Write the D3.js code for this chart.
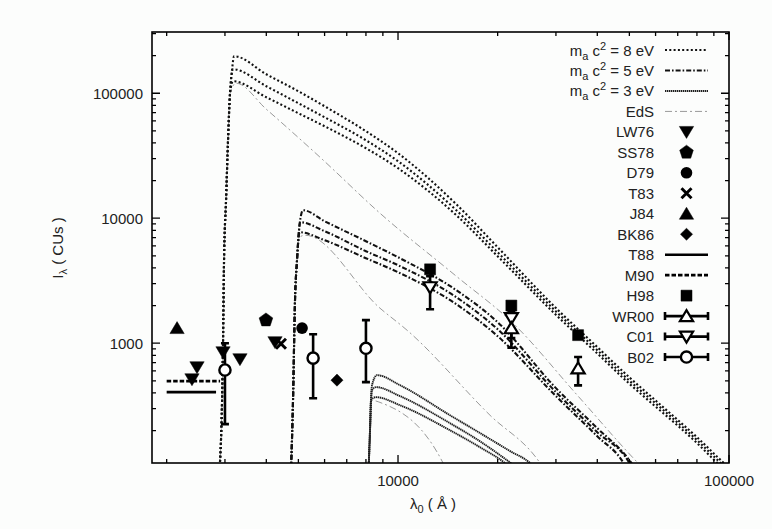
<!DOCTYPE html>
<html><head><meta charset="utf-8">
<script src="https://cdn.jsdelivr.net/npm/d3@7"></script>
<style>
html,body{margin:0;padding:0;background:#fcfdfc;}
svg{display:block;font-family:"Liberation Sans",Arial,Helvetica,sans-serif;}
</style></head><body>
<svg id="chart" width="772" height="529"></svg>
<script>
// Axis ranges: observed wavelength (Å) and intensity (CUs)
const xDomain = [1806, 100000];
const yDomain = [110, 309000];
const xTickLabels = [10000, 100000];
const yTickLabels = [1000, 10000, 100000];

// Axion-decay spectra, [λ0 (Å), I (CUs)]; three cosmologies per mass plus EdS
const m8a = [[2888,96],[2940,350],[2960,1000],[2981,4600],[3023,13900],[3065,42000],[3108,100000],[3151,152800],[3196,197700],[4000,141900],[5000,103700],[6000,78700],[8000,49660],[10000,33110],[15000,12940],[20000,5855],[30000,1911],[40000,931],[50000,533],[60000,348],[70000,243],[80000,177],[90000,131],[100000,100]];
const m8b = [[2888,96],[2940,350],[2960,1000],[2981,4600],[3023,13900],[3065,42000],[3108,100000],[3173,155600],[4000,113800],[5000,83180],[6000,64270],[8000,42070],[10000,28580],[15000,11580],[20000,5340],[30000,1795],[40000,879],[50000,501],[60000,330],[70000,231],[80000,168],[90000,124],[100000,95]];
const m8c = [[2888,96],[2940,350],[2960,1000],[2981,4600],[3023,13900],[3065,42000],[3108,100000],[3173,124700],[4000,92900],[5000,69180],[6000,54450],[8000,36310],[10000,25120],[15000,10570],[20000,4960],[30000,1687],[40000,828],[50000,474],[60000,311],[70000,219],[80000,159],[90000,117],[100000,90]];
const eds8 = [[2888,96],[2940,350],[2960,1000],[2981,4600],[3023,13900],[3065,42000],[3108,100000],[3240,120200],[4000,74500],[5813,30760],[8823,10960],[15000,3436],[22250,1445],[35000,377],[53100,110],[55000,100]];

const m5a = [[4750,96],[4817,350],[4884,2208],[4953,4613],[5022,8017],[5093,10570],[5164,11590],[6000,9462],[8000,6546],[10000,4875],[15000,2655],[20000,1472],[30000,437],[40000,209],[50000,116],[52000,100]];
const m5b = [[4750,96],[4817,350],[4884,2208],[4953,4613],[5022,8017],[5058,9290],[6000,7870],[8000,5445],[10000,4207],[15000,2333],[20000,1294],[30000,406],[40000,194],[50000,110],[51000,100]];
const m5c = [[4750,96],[4817,350],[4884,2208],[4953,4613],[5040,7727],[6000,6668],[8000,4786],[10000,3698],[15000,2051],[20000,1138],[30000,377],[40000,180],[48000,110],[49000,100]];
const eds5 = [[4750,96],[4817,350],[4884,2208],[4953,4613],[5022,7000],[5236,7311],[8823,1905],[10646,1271],[18970,265],[26850,110],[27500,100]];

const m3a = [[8145,96],[8230,201],[8287,350],[8344,461],[8641,555],[10139,461],[14360,265],[17690,191],[21800,137],[25050,110],[26000,100]];
const m3b = [[8145,96],[8230,201],[8287,350],[8344,420],[8580,445],[10139,377],[14360,229],[17690,164],[20340,127],[23000,100]];
const m3c = [[8145,96],[8230,201],[8287,350],[8580,370],[10139,319],[14360,201],[17690,147],[21050,110],[22000,100]];
const eds3 = [[8145,96],[8230,201],[8287,350],[8948,331],[13680,110],[13900,100]];

// Measurements, [λ0 (Å), I (CUs)]
const lw76 = [[2470,643],[2385,515],[2960,847],[3330,745],[4250,1020]];
const ss78 = [[3990,1530]];
const d79 = [[5130,1320]];
const t83 = [[4430,990]];
const j84 = [[2150,1320]];
const bk86 = [[6540,506]];
const t88 = [[2000,406],[2820,406]];
const m90 = [[2000,497],[2900,497]];
const h98 = [[12500,3900],[22000,2000],[35000,1160]];
// [λ0, I, I_low, I_high]
const wr00 = [[22000,1318,920,1800],[35000,630,460,775]];
const c01 = [[12500,2800,1870,3440],[22000,1585,1100,2000]];
const b02 = [[3000,610,225,1000],[5540,760,363,1180],[8000,910,488,1530]];

const svg = d3.select('#chart');
const plot = {left:152, right:729, top:32, bottom:463};
const x = d3.scaleLog().domain(xDomain).range([plot.left, plot.right]);
const y = d3.scaleLog().domain(yDomain).range([plot.bottom, plot.top]);

svg.append('rect').attr('width',772).attr('height',529).attr('fill','#fcfdfc');

svg.append('clipPath').attr('id','plotclip').append('rect')
  .attr('x',plot.left).attr('y',plot.top)
  .attr('width',plot.right-plot.left).attr('height',plot.bottom-plot.top);

const styles = {
  m8:  {stroke:'#111', width:2.1, dash:'2 2.3'},
  m5:  {stroke:'#111', width:2.1, dash:'5 2 1.6 2'},
  m3:  {stroke:'#1e1e1e', width:1.9, dash:'1.4 0.6'},
  eds: {stroke:'#999', width:1, dash:'7 3 2 3'}
};

const line = d3.line().x(d=>x(d[0])).y(d=>y(d[1])).curve(d3.curveMonotoneX);
const curveG = svg.append('g').attr('clip-path','url(#plotclip)');
const curves = [
  [eds8,'eds'],[eds5,'eds'],[eds3,'eds'],
  [m8a,'m8'],[m8b,'m8'],[m8c,'m8'],
  [m5a,'m5'],[m5b,'m5'],[m5c,'m5'],
  [m3a,'m3'],[m3b,'m3'],[m3c,'m3']
];
curves.forEach(([data,key])=>{
  const s = styles[key];
  curveG.append('path').attr('d',line(data)).attr('fill','none')
    .attr('stroke',s.stroke).attr('stroke-width',s.width).attr('stroke-dasharray',s.dash);
});

// Marker shapes
function markerPath(kind, s){
  switch(kind){
    case 'down': return `M${-s*0.55},${-s*0.42}L${s*0.55},${-s*0.42}L0,${s*0.5}Z`;
    case 'up': return `M${-s*0.55},${s*0.42}L${s*0.55},${s*0.42}L0,${-s*0.5}Z`;
    case 'diamond': return `M0,${-s*0.55}L${s*0.55},0L0,${s*0.55}L${-s*0.55},0Z`;
    case 'square': return `M${-s/2},${-s/2}h${s}v${s}h${-s}Z`;
    case 'pent': {
      const r=s*0.55; let p='';
      for(let i=0;i<5;i++){const a=-Math.PI/2+i*2*Math.PI/5; p+=(i?'L':'M')+(r*Math.cos(a)).toFixed(2)+','+(r*Math.sin(a)).toFixed(2);}
      return p+'Z';
    }
  }
}
function drawMarker(g, kind, cx, cy, open){
  if(kind==='circle'){
    g.append('circle').attr('cx',cx).attr('cy',cy).attr('r',open?5.6:5.8)
      .attr('fill',open?'#fff':'#000').attr('stroke','#000').attr('stroke-width',open?2.4:0);
  } else if(kind==='cross'){
    g.append('path').attr('d',`M${cx-5},${cy-5}L${cx+5},${cy+5}M${cx-5},${cy+5}L${cx+5},${cy-5}`)
      .attr('stroke','#000').attr('stroke-width',3).attr('fill','none');
  } else {
    const size = open ? 12 : (kind==='square'?11:(kind==='diamond'?11:13));
    g.append('path').attr('d',markerPath(kind,size)).attr('transform',`translate(${cx},${cy})`)
      .attr('fill',open?'#fff':'#000').attr('stroke','#000').attr('stroke-width',open?2.2:0.5)
      .attr('stroke-linejoin','miter');
  }
}

const ptG = svg.append('g');
// horizontal segments
ptG.append('path').attr('d',d3.line().x(d=>x(d[0])).y(d=>y(d[1]))(t88))
  .attr('stroke','#000').attr('stroke-width',2.6).attr('fill','none');
ptG.append('path').attr('d',d3.line().x(d=>x(d[0])).y(d=>y(d[1]))(m90))
  .attr('stroke','#000').attr('stroke-width',2.6).attr('stroke-dasharray','4.5 2').attr('fill','none');

function errorBars(data){
  data.forEach(d=>{
    const cx=x(d[0]);
    ptG.append('path').attr('d',`M${cx},${y(d[2])}V${y(d[3])}M${cx-4},${y(d[2])}h8M${cx-4},${y(d[3])}h8`)
      .attr('stroke','#000').attr('stroke-width',2.6).attr('fill','none');
  });
}
errorBars(b02); errorBars(c01); errorBars(wr00);

const plain = [[lw76,'down'],[ss78,'pent'],[d79,'circle'],[t83,'cross'],[j84,'up'],[bk86,'diamond'],[h98,'square']];
plain.forEach(([data,kind])=>data.forEach(d=>drawMarker(ptG,kind,x(d[0]),y(d[1]),false)));
c01.forEach(d=>drawMarker(ptG,'down',x(d[0]),y(d[1]),true));
wr00.forEach(d=>drawMarker(ptG,'up',x(d[0]),y(d[1]),true));
b02.forEach(d=>drawMarker(ptG,'circle',x(d[0]),y(d[1]),true));

// Frame and ticks (mirrored on all four sides)
const axG = svg.append('g');
const fmt = d3.format('d');
x.ticks().forEach(t=>{
  const major = xTickLabels.includes(t);
  const len = major?8:4, px=x(t);
  axG.append('path').attr('d',`M${px},${plot.bottom}v${-len}M${px},${plot.top}v${len}`)
    .attr('stroke','#000').attr('stroke-width',1.3);
});
y.ticks().forEach(t=>{
  const major = yTickLabels.includes(t);
  const len = major?8:4, py=y(t);
  axG.append('path').attr('d',`M${plot.left},${py}h${len}M${plot.right},${py}h${-len}`)
    .attr('stroke','#000').attr('stroke-width',1.3);
});
axG.append('rect').attr('x',plot.left).attr('y',plot.top)
  .attr('width',plot.right-plot.left).attr('height',plot.bottom-plot.top)
  .attr('fill','none').attr('stroke','#000').attr('stroke-width',1.6);

const txt = '#222';
xTickLabels.forEach(t=>{
  axG.append('text').attr('x',x(t)).attr('y',plot.bottom+23).attr('text-anchor','middle')
    .attr('font-size',15).attr('fill',txt).text(fmt(t));
});
yTickLabels.forEach(t=>{
  axG.append('text').attr('x',plot.left-9).attr('y',y(t)+5.5).attr('text-anchor','end')
    .attr('font-size',15).attr('fill',txt).text(fmt(t));
});

// Axis titles
const xl = axG.append('text').attr('x',433).attr('y',509).attr('text-anchor','middle')
  .attr('font-size',15).attr('fill',txt);
xl.append('tspan').text('λ');
xl.append('tspan').attr('dy',4).attr('font-size',11).text('0');
xl.append('tspan').attr('dy',-4).text(' ( Å )');

const yl = axG.append('text').attr('transform','translate(63,248) rotate(-90)').attr('text-anchor','middle')
  .attr('font-size',15).attr('fill',txt);
yl.append('tspan').text('I');
yl.append('tspan').attr('dy',4).attr('font-size',11).text('λ');
yl.append('tspan').attr('dy',-4).text(' ( CUs )');

// Legend
const lg = svg.append('g');
const legTextX = 654, legX0 = 665, legX1 = 708, legY0 = 50, legStep = 20.47;
const legendRows = [
  {mass:'8', style:'m8'},{mass:'5', style:'m5'},{mass:'3', style:'m3'},
  {label:'EdS', style:'eds'},
  {label:'LW76', marker:'down'},{label:'SS78', marker:'pent'},{label:'D79', marker:'circle'},
  {label:'T83', marker:'cross'},{label:'J84', marker:'up'},{label:'BK86', marker:'diamond'},
  {label:'T88', seg:'solid'},{label:'M90', seg:'dash'},{label:'H98', marker:'square'},
  {label:'WR00', err:'up'},{label:'C01', err:'down'},{label:'B02', err:'circle'}
];
legendRows.forEach((r,i)=>{
  const cy = legY0 + i*legStep;
  const t = lg.append('text').attr('x',legTextX).attr('y',cy+5.5).attr('text-anchor','end')
    .attr('font-size',15).attr('fill',txt);
  if(r.mass){
    t.append('tspan').text('m');
    t.append('tspan').attr('dy',4).attr('font-size',11).text('a');
    t.append('tspan').attr('dy',-4).text(' c');
    t.append('tspan').attr('dy',-6).attr('font-size',11).text('2');
    t.append('tspan').attr('dy',6).text(` = ${r.mass} eV`);
  } else t.text(r.label);
  const cx = (legX0+legX1)/2;
  if(r.style){
    const s = styles[r.style];
    lg.append('path').attr('d',`M${legX0},${cy}H${legX1}`).attr('fill','none')
      .attr('stroke',s.stroke).attr('stroke-width',s.width).attr('stroke-dasharray',s.dash);
  } else if(r.seg){
    lg.append('path').attr('d',`M${legX0},${cy}H${legX1}`).attr('fill','none')
      .attr('stroke','#000').attr('stroke-width',2.6).attr('stroke-dasharray',r.seg==='dash'?'4.5 2':null);
  } else if(r.err){
    lg.append('path').attr('d',`M${legX0},${cy}H${legX1}M${legX0},${cy-4}v8M${legX1},${cy-4}v8`)
      .attr('fill','none').attr('stroke','#000').attr('stroke-width',2.6);
    drawMarker(lg, r.err, cx, cy, true);
  } else if(r.marker){
    drawMarker(lg, r.marker, cx, cy, false);
  }
});
</script>
</body></html>
